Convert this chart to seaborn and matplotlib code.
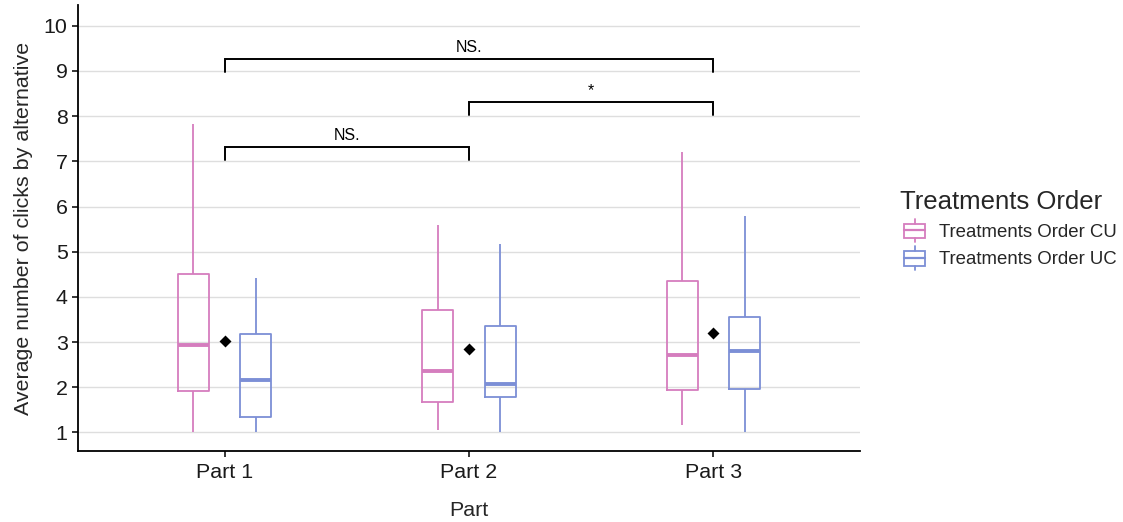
import numpy as np
import pandas as pd
import matplotlib
matplotlib.use("Agg")
import matplotlib.pyplot as plt
import seaborn as sns
from matplotlib.legend_handler import HandlerBase
from matplotlib.patches import Rectangle
from matplotlib.lines import Line2D

# ---------------- data ----------------
parts = ["Part 1", "Part 2", "Part 3"]
orders = ["Treatments Order CU", "Treatments Order UC"]
# five-number summaries per part: [min, q1, median, q3, max]
cu_summary = [
    [1.00, 1.91, 2.93, 4.50, 7.83],
    [1.05, 1.68, 2.35, 3.70, 5.59],
    [1.17, 1.94, 2.72, 4.35, 7.21],
]
uc_summary = [
    [1.00, 1.35, 2.17, 3.19, 4.41],
    [1.00, 1.78, 2.07, 3.36, 5.17],
    [1.00, 1.96, 2.80, 3.56, 5.79],
]
part_means = [3.02, 2.84, 3.21]
bracket_from = [0, 1, 0]
bracket_to = [1, 2, 2]
bracket_heights = [7.31, 8.31, 9.26]
bracket_labels = ["NS.", "*", "NS."]
y_ticks = [1, 2, 3, 4, 5, 6, 7, 8, 9, 10]
colors = ["#D57DBE", "#7C8FD6"]

rows = []
for order, summ in zip(orders, [cu_summary, uc_summary]):
    for part, vals in zip(parts, summ):
        for v in vals:
            rows.append({"Part": part, "Order": order, "value": v})
df = pd.DataFrame(rows)

sns.set_theme(style="white")
plt.rcParams["font.family"] = ["Liberation Sans", "DejaVu Sans"]

fig = plt.figure(figsize=(11.23, 5.22), dpi=100)
ax = fig.add_axes([78 / 1123, 1 - 451 / 522, (860 - 78) / 1123, (451 - 5) / 522])

pal = dict(zip(orders, colors))
sns.boxplot(data=df, x="Part", y="value", hue="Order", order=parts, hue_order=orders,
            palette=pal, fill=False, width=0.51, gap=0.5, whis=1.5, showcaps=False,
            linewidth=1.3, medianprops={"linewidth": 2.8}, legend=False, ax=ax)

sns.pointplot(x=parts, y=part_means, order=parts, color="black", markers="D",
              linestyle="none", markersize=4, errorbar=None, ax=ax)

# significance brackets
drop = 0.28
for a, b, h, lab in zip(bracket_from, bracket_to, bracket_heights, bracket_labels):
    ax.plot([a, a, b, b], [h - drop, h, h, h - drop], color="black", lw=1.4,
            solid_joinstyle="miter", clip_on=False, zorder=5)
    ax.text((a + b) / 2, h + 0.09, lab, ha="center", va="bottom", fontsize=11.5, color="black")

ax.set_xlim(-0.6, 2.6)
ax.set_ylim(0.59, 10.46)
ax.set_yticks(y_ticks)
ax.set_yticklabels([str(t) for t in y_ticks])
ax.yaxis.grid(True, color="#DEDEDE", lw=1.0)
ax.xaxis.grid(False)
ax.set_axisbelow(True)
for s in ["top", "right"]:
    ax.spines[s].set_visible(False)
for s in ["left", "bottom"]:
    ax.spines[s].set_color("black")
    ax.spines[s].set_linewidth(1.3)
ax.tick_params(axis="both", which="major", length=4.5, width=1.1, color="black",
               labelsize=15.4, labelcolor="#1a1a1a", pad=3, left=True, bottom=True)
ax.tick_params(axis="x", pad=4.5)
ax.set_xlabel("Part", fontsize=15.4, labelpad=13)
ax.set_ylabel("Average number of clicks by alternative", fontsize=15.4, labelpad=8)


class BoxKey(HandlerBase):
    def create_artists(self, legend, orig_handle, xdescent, ydescent, width, height,
                       fontsize, trans):
        c = orig_handle.get_edgecolor()
        x0, y0 = -xdescent, -ydescent
        bx0, bx1 = x0 + 0.14 * width, x0 + 0.95 * width
        by0, by1 = y0 + 0.17 * height, y0 + 0.80 * height
        xm = (bx0 + bx1) / 2
        arts = [
            Rectangle((bx0, by0), bx1 - bx0, by1 - by0, facecolor="white", edgecolor=c,
                      lw=1.3, transform=trans),
            Line2D([bx0, bx1], [y0 + 0.5 * height] * 2, color=c, lw=1.6, transform=trans),
            Line2D([xm, xm], [by1, y0 + height], color=c, lw=1.3, transform=trans),
            Line2D([xm, xm], [y0, by0], color=c, lw=1.3, transform=trans),
        ]
        return arts


handles = [Rectangle((0, 0), 1, 1, facecolor="white", edgecolor=c) for c in colors]
leg = fig.legend(handles, orders, loc="center left", bbox_to_anchor=(893 / 1123, 1 - 230 / 522),
                 frameon=False, fontsize=13.4, title="Treatments Order", title_fontsize=18.5,
                 handler_map={Rectangle: BoxKey()}, handlelength=1.4, handleheight=1.53,
                 labelspacing=0.24, handletextpad=0.68, borderaxespad=0)
leg._legend_box.align = "left"

fig.savefig("out.png", dpi=100)
